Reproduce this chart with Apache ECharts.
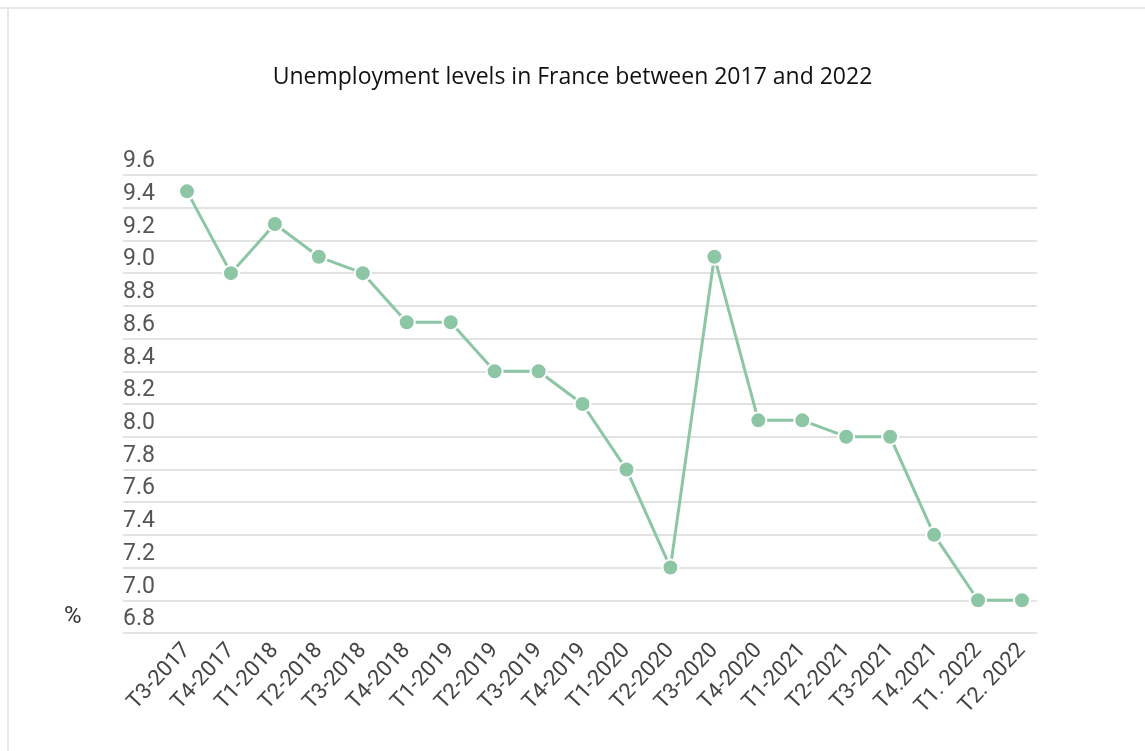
<!DOCTYPE html>
<html>
<head>
<meta charset="utf-8">
<script src="https://cdn.jsdelivr.net/npm/echarts@6/dist/echarts.min.js"></script>
<style>
  html, body { margin: 0; padding: 0; background: #fff; }
  #chart { width: 1145px; height: 751px; }
</style>
</head>
<body>
<div id="chart"></div>
<script>
// Quarterly unemployment rate in France (%)
const quarters = [
  'T3-2017', 'T4-2017', 'T1-2018', 'T2-2018', 'T3-2018', 'T4-2018',
  'T1-2019', 'T2-2019', 'T3-2019', 'T4-2019', 'T1-2020', 'T2-2020',
  'T3-2020', 'T4-2020', 'T1-2021', 'T2-2021', 'T3-2021', 'T4.2021',
  'T1. 2022', 'T2. 2022'
];
const unemploymentRate = [
  9.5, 9.0, 9.3, 9.1, 9.0, 8.7,
  8.7, 8.4, 8.4, 8.2, 7.8, 7.2,
  9.1, 8.1, 8.1, 8.0, 8.0, 7.4,
  7.0, 7.0
];
const yMin = 6.8;
const yMax = 9.6;
const yStep = 0.2;

const lineColor = '#8dc6a4';
const chart = echarts.init(document.getElementById('chart'));

chart.setOption({
  backgroundColor: '#ffffff',
  animation: false,
  title: {
    text: 'Unemployment levels in France between 2017 and 2022',
    left: 'center',
    top: 61,
    textStyle: {
      fontFamily: 'Open Sans',
      fontSize: 23,
      fontWeight: 'normal',
      color: '#111'
    }
  },
  graphic: [
    { type: 'line', shape: { x1: 0, y1: 8, x2: 1145, y2: 8 },
      style: { stroke: '#e8e8e8', lineWidth: 2 } },
    { type: 'line', shape: { x1: 8, y1: 8, x2: 8, y2: 751 },
      style: { stroke: '#e8e8e8', lineWidth: 2 } },
    { type: 'text', left: 64, top: 605,
      style: { text: '%', fontFamily: 'Roboto', fontSize: 24, fill: '#333' } }
  ],
  grid: [
    // gridlines + value labels
    { left: 123, right: 108, top: 175, bottom: 118 },
    // data area
    { left: 187, right: 123, top: 175, bottom: 118 }
  ],
  xAxis: [
    { type: 'category', gridIndex: 0, data: quarters, show: false },
    {
      type: 'category',
      gridIndex: 1,
      data: quarters,
      boundaryGap: false,
      axisLine: { show: false },
      axisTick: { show: false },
      axisLabel: {
        rotate: 47,
        interval: 0,
        margin: 14,
        fontFamily: 'Roboto',
        fontSize: 22,
        color: '#444'
      }
    }
  ],
  yAxis: [
    {
      type: 'value',
      gridIndex: 0,
      min: yMin,
      max: yMax,
      interval: yStep,
      axisLine: { show: false },
      axisTick: { show: false },
      splitLine: { lineStyle: { color: '#e2e2e2', width: 2 } },
      axisLabel: {
        align: 'left',
        verticalAlign: 'bottom',
        margin: 0,
        padding: [0, 0, 2, 0],
        fontFamily: 'Roboto',
        fontSize: 23,
        color: '#555',
        formatter: v => v.toFixed(1)
      }
    },
    {
      type: 'value',
      gridIndex: 1,
      min: yMin,
      max: yMax,
      interval: yStep,
      show: false,
      splitLine: { show: false }
    }
  ],
  series: [
    {
      type: 'line',
      xAxisIndex: 1,
      yAxisIndex: 1,
      data: unemploymentRate,
      symbol: 'circle',
      symbolSize: 16,
      lineStyle: { color: lineColor, width: 3 },
      itemStyle: { color: lineColor, borderColor: '#ffffff', borderWidth: 2 }
    }
  ]
});
</script>
</body>
</html>
